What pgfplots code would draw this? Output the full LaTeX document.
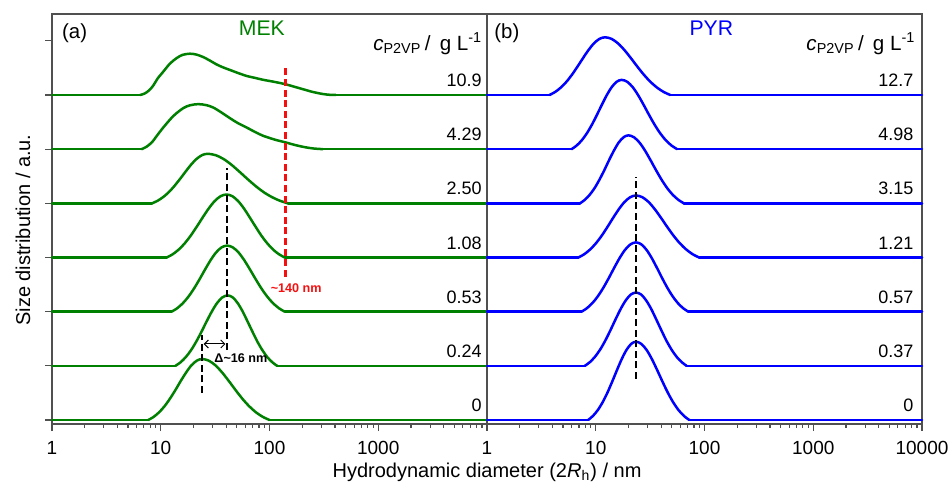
\documentclass[border=0pt]{standalone}
\usepackage{pgfplots}
\pgfplotsset{compat=1.18}
\usepackage{fontspec}
\setmainfont{Liberation Sans}
\usetikzlibrary{arrows.meta}
\definecolor{mekgreen}{RGB}{0,128,0}
\definecolor{pyrblue}{RGB}{0,0,255}
\definecolor{framegray}{RGB}{80,80,80}
\definecolor{dred}{RGB}{245,15,15}
\tikzset{
  num/.style={anchor=base east, inner sep=0pt, font=\fontsize{9}{10}\selectfont},
  hdr/.style={anchor=base east, inner sep=0pt, font=\fontsize{10.3}{12}\selectfont},
  dashk/.style={black, line width=1.2pt, dash pattern=on 3.5pt off 1.8pt},
  mek/.style={mekgreen, line width=1.25pt, smooth, line cap=round, line join=round},
  pyr/.style={pyrblue, line width=1.25pt, smooth, line cap=round, line join=round},
  mekb/.style={mekgreen, line width=1.25pt, sharp plot, line cap=round},
  pyrb/.style={pyrblue, line width=1.25pt, sharp plot, line cap=round},
}
\pgfplotsset{
  panel/.style={
    scale only axis, width=217.5pt, height=205pt,
    xmin=0, xmax=4, ymin=-0.074, ymax=7.495,
    axis line style={framegray, line width=0.75pt},
    tick style={framegray, line width=0.6pt},
    tick align=outside,
    major tick length=3.5pt, minor tick length=1.8pt,
    xtick pos=bottom,
    minor xtick={0.301,0.477,0.602,0.699,0.778,0.845,0.903,0.954,
      1.301,1.477,1.602,1.699,1.778,1.845,1.903,1.954,
      2.301,2.477,2.602,2.699,2.778,2.845,2.903,2.954,
      3.301,3.477,3.602,3.699,3.778,3.845,3.903,3.954},
    ticklabel style={font=\fontsize{9.5}{11}\selectfont},
    xticklabel style={yshift=-1.5pt},
    unbounded coords=jump,
    clip=false,
  },
}
\begin{document}
\begin{tikzpicture}
% ---------------- (a) MEK ----------------
\begin{axis}[panel, at={(0pt,0pt)}, anchor=south west,
  xtick={0,1,2,3}, xticklabels={1,10,100,1000},
  ytick={0,1,2,3,4,5,6,7}, yticklabels={}, ytick pos=left]
% baselines
\addplot[mekb] coordinates {(0,0) (0.885,0) (nan,nan) (2.0,0) (4,0)};
\addplot[mekb] coordinates {(0,1) (1.135,1) (nan,nan) (2.07,1) (4,1)};
\addplot[mekb] coordinates {(0,2) (1.10,2) (nan,nan) (2.14,2) (4,2)};
\addplot[mekb] coordinates {(0,3) (1.055,3) (nan,nan) (2.14,3) (4,3)};
\addplot[mekb] coordinates {(0,4) (0.92,4) (nan,nan) (2.17,4) (4,4)};
\addplot[mekb] coordinates {(0,5) (0.824,5) (nan,nan) (2.49,5) (4,5)};
\addplot[mekb] coordinates {(0,6) (0.81,6) (nan,nan) (2.61,6) (4,6)};
% 0
\addplot[mek] coordinates {(0.885,0) (0.935,0.058) (0.984,0.141) (1.034,0.252) (1.083,0.389) (1.133,0.547) (1.182,0.714) (1.232,0.873) (1.281,1.007) (1.331,1.095) (1.38,1.126) (1.442,1.095) (1.504,1.007) (1.566,0.873) (1.628,0.714) (1.69,0.547) (1.752,0.389) (1.814,0.252) (1.876,0.141) (1.938,0.058) (2.0,0)};
% 0.24
\addplot[mek] coordinates {(1.135,1) (1.183,1.067) (1.231,1.163) (1.279,1.290) (1.327,1.449) (1.375,1.631) (1.423,1.824) (1.471,2.008) (1.519,2.162) (1.567,2.264) (1.615,2.30) (1.661,2.264) (1.706,2.162) (1.752,2.008) (1.797,1.824) (1.843,1.631) (1.888,1.449) (1.934,1.290) (1.979,1.163) (2.025,1.067) (2.07,1)};
% 0.53
\addplot[mek] coordinates {(1.10,2) (1.151,2.063) (1.202,2.153) (1.253,2.273) (1.304,2.421) (1.355,2.592) (1.406,2.773) (1.457,2.946) (1.508,3.091) (1.559,3.186) (1.61,3.22) (1.663,3.186) (1.716,3.091) (1.769,2.946) (1.822,2.773) (1.875,2.592) (1.928,2.421) (1.981,2.273) (2.034,2.153) (2.087,2.063) (2.14,2)};
% 1.08
\addplot[mek] coordinates {(1.055,3) (1.11,3.060) (1.165,3.146) (1.22,3.260) (1.275,3.402) (1.33,3.565) (1.385,3.737) (1.44,3.902) (1.495,4.040) (1.55,4.131) (1.605,4.163) (1.659,4.131) (1.712,4.040) (1.766,3.902) (1.819,3.737) (1.873,3.565) (1.926,3.402) (1.980,3.260) (2.033,3.146) (2.087,3.060) (2.14,3)};
% 2.50
\addplot[mek] coordinates {(0.92,4) (0.971,4.047) (1.022,4.115) (1.073,4.204) (1.124,4.316) (1.175,4.444) (1.226,4.579) (1.277,4.709) (1.328,4.817) (1.379,4.889) (1.43,4.914) (1.504,4.889) (1.578,4.817) (1.652,4.709) (1.726,4.579) (1.80,4.444) (1.874,4.316) (1.948,4.204) (2.022,4.115) (2.096,4.047) (2.17,4)};
% 4.29
\addplot[mek] coordinates {(0.824,5) (0.87,5.045) (0.92,5.13) (0.97,5.262) (1.023,5.399) (1.115,5.61) (1.207,5.757) (1.27,5.81) (1.345,5.831) (1.42,5.812) (1.483,5.768) (1.56,5.674) (1.636,5.572) (1.71,5.480) (1.79,5.399) (1.87,5.314) (1.942,5.246) (2.05,5.175) (2.148,5.124) (2.23,5.079) (2.31,5.042) (2.40,5.013) (2.49,5)};
% 10.9
\addplot[mek] coordinates {(0.81,6) (0.85,6.025) (0.89,6.08) (0.93,6.17) (0.97,6.30) (1.023,6.43) (1.085,6.58) (1.146,6.68) (1.20,6.74) (1.268,6.762) (1.33,6.745) (1.39,6.70) (1.45,6.637) (1.513,6.564) (1.575,6.508) (1.636,6.462) (1.71,6.406) (1.79,6.351) (1.87,6.314) (1.942,6.280) (2.05,6.240) (2.148,6.198) (2.23,6.151) (2.31,6.105) (2.40,6.055) (2.49,6.018) (2.55,6.004) (2.61,6)};
% guide lines
\addplot[dashk] coordinates {(1.61,1.292) (1.61,4.652)};
\addplot[dashk] coordinates {(1.38,0.498) (1.38,1.569)};
\addplot[dred, line width=1.2pt, dash pattern=on 3.5pt off 1.8pt] coordinates {(2.146,2.645) (2.146,6.553)};
\draw[{Straight Barb[length=2pt]}-{Straight Barb[length=2pt]}, line width=0.5pt] (axis cs:1.395,1.403) -- (axis cs:1.595,1.403);
\node[font=\bfseries\fontsize{6.3}{7}\selectfont, anchor=center, inner sep=0pt] at (axis cs:1.737,1.145) {Δ\textasciitilde16 nm};
\node[font=\bfseries\fontsize{6.3}{7}\selectfont, text=dred, anchor=center, inner sep=0pt] at (axis cs:2.245,2.431) {\textasciitilde140 nm};
% labels
\node[anchor=base west, inner sep=0pt, font=\fontsize{10.2}{12}\selectfont] at (axis cs:0.09,7.04) {(a)};
\node[anchor=base, inner sep=0pt, font=\fontsize{10.6}{12}\selectfont, text=mekgreen] at (axis cs:1.93,7.09) {MEK};
\node[hdr] at (axis cs:3.96,6.83) {\textit{c}\textsubscript{P2VP}\,/\;\,g L\textsuperscript{-1}};
\node[num] at (axis cs:3.955,6.155) {10.9};
\node[num] at (axis cs:3.955,5.155) {4.29};
\node[num] at (axis cs:3.955,4.155) {2.50};
\node[num] at (axis cs:3.955,3.155) {1.08};
\node[num] at (axis cs:3.955,2.155) {0.53};
\node[num] at (axis cs:3.955,1.155) {0.24};
\node[num] at (axis cs:3.955,0.165) {0};
\node[xshift=-11pt, anchor=base, inner sep=0pt, rotate=90, font=\fontsize{10}{12}\selectfont] at (rel axis cs:0,0.473) {Size distribution / a.u.};
\node[yshift=-26.5pt, anchor=base, inner sep=0pt, font=\fontsize{10}{12}\selectfont] at (rel axis cs:1,0) {Hydrodynamic diameter (2\textit{R}\textsubscript{h}) / nm};
\end{axis}
% ---------------- (b) PYR ----------------
\begin{axis}[panel, at={(217.5pt,0pt)}, anchor=south west,
  xtick={0,1,2,3,4}, xticklabels={1,10,100,1000,10000},
  ytick=\empty]
\addplot[pyrb] coordinates {(0,0) (0.93,0) (nan,nan) (1.86,0) (4,0)};
\addplot[pyrb] coordinates {(0,1) (0.90,1) (nan,nan) (1.835,1) (4,1)};
\addplot[pyrb] coordinates {(0,2) (0.87,2) (nan,nan) (1.85,2) (4,2)};
\addplot[pyrb] coordinates {(0,3) (0.84,3) (nan,nan) (1.95,3) (4,3)};
\addplot[pyrb] coordinates {(0,4) (0.855,4) (nan,nan) (1.81,4) (4,4)};
\addplot[pyrb] coordinates {(0,5) (0.778,5) (nan,nan) (1.748,5) (4,5)};
\addplot[pyrb] coordinates {(0,6) (0.575,6) (nan,nan) (1.685,6) (4,6)};
% 0
\addplot[pyr] coordinates {(0.93,0) (0.974,0.075) (1.018,0.181) (1.062,0.323) (1.106,0.499) (1.15,0.702) (1.194,0.916) (1.238,1.121) (1.282,1.292) (1.326,1.405) (1.37,1.445) (1.419,1.405) (1.468,1.292) (1.517,1.121) (1.566,0.916) (1.615,0.702) (1.664,0.499) (1.713,0.323) (1.762,0.181) (1.811,0.075) (1.86,0)};
% 0.37
\addplot[pyr] coordinates {(0.90,1) (0.947,1.070) (0.994,1.170) (1.041,1.302) (1.088,1.467) (1.135,1.657) (1.182,1.858) (1.229,2.049) (1.276,2.209) (1.323,2.316) (1.37,2.353) (1.417,2.316) (1.463,2.209) (1.510,2.049) (1.556,1.858) (1.603,1.657) (1.649,1.467) (1.696,1.302) (1.742,1.170) (1.789,1.070) (1.835,1)};
% 0.57
\addplot[pyr] coordinates {(0.87,2) (0.92,2.066) (0.97,2.160) (1.02,2.286) (1.07,2.442) (1.12,2.621) (1.17,2.811) (1.22,2.992) (1.27,3.143) (1.32,3.244) (1.37,3.279) (1.418,3.244) (1.466,3.143) (1.514,2.992) (1.562,2.811) (1.61,2.621) (1.658,2.442) (1.706,2.286) (1.754,2.160) (1.802,2.066) (1.85,2)};
% 1.21
\addplot[pyr] coordinates {(0.84,3) (0.893,3.059) (0.946,3.144) (0.999,3.256) (1.052,3.395) (1.105,3.556) (1.158,3.726) (1.211,3.888) (1.264,4.024) (1.317,4.113) (1.37,4.145) (1.428,4.113) (1.486,4.024) (1.544,3.888) (1.602,3.726) (1.66,3.556) (1.718,3.395) (1.776,3.256) (1.834,3.144) (1.892,3.059) (1.95,3)};
% 3.15
\addplot[pyr] coordinates {(0.855,4) (0.90,4.065) (0.944,4.157) (0.989,4.280) (1.033,4.433) (1.078,4.609) (1.122,4.795) (1.167,4.973) (1.211,5.122) (1.256,5.220) (1.30,5.255) (1.351,5.220) (1.402,5.122) (1.453,4.973) (1.504,4.795) (1.555,4.609) (1.606,4.433) (1.657,4.280) (1.708,4.157) (1.759,4.065) (1.81,4)};
% 4.98
\addplot[pyr] coordinates {(0.778,5) (0.824,5.066) (0.870,5.160) (0.916,5.286) (0.962,5.442) (1.008,5.621) (1.054,5.811) (1.100,5.992) (1.146,6.143) (1.192,6.244) (1.238,6.279) (1.289,6.244) (1.340,6.143) (1.391,5.992) (1.442,5.811) (1.493,5.621) (1.544,5.442) (1.595,5.286) (1.646,5.160) (1.697,5.066) (1.748,5)};
% 12.7
\addplot[pyr] coordinates {(0.575,6) (0.626,6.055) (0.677,6.134) (0.728,6.238) (0.779,6.368) (0.83,6.517) (0.881,6.675) (0.932,6.826) (0.983,6.952) (1.034,7.036) (1.085,7.065) (1.145,7.036) (1.205,6.952) (1.265,6.826) (1.325,6.675) (1.385,6.517) (1.445,6.368) (1.505,6.238) (1.565,6.134) (1.625,6.055) (1.685,6)};
\addplot[dashk] coordinates {(1.37,0.757) (1.37,4.486)};
\node[anchor=base west, inner sep=0pt, font=\fontsize{10.2}{12}\selectfont] at (axis cs:0.064,7.04) {(b)};
\node[anchor=base, inner sep=0pt, font=\fontsize{10.6}{12}\selectfont, text=pyrblue] at (axis cs:2.063,7.09) {PYR};
\node[hdr] at (axis cs:3.943,6.83) {\textit{c}\textsubscript{P2VP}\,/\;\,g L\textsuperscript{-1}};
\node[num] at (axis cs:3.925,6.155) {12.7};
\node[num] at (axis cs:3.925,5.155) {4.98};
\node[num] at (axis cs:3.925,4.155) {3.15};
\node[num] at (axis cs:3.925,3.155) {1.21};
\node[num] at (axis cs:3.925,2.155) {0.57};
\node[num] at (axis cs:3.925,1.155) {0.37};
\node[num] at (axis cs:3.925,0.165) {0};
\end{axis}
\pgfresetboundingbox
\path (-26pt,-31pt) rectangle (449.5pt,212pt);
\end{tikzpicture}
\end{document}
